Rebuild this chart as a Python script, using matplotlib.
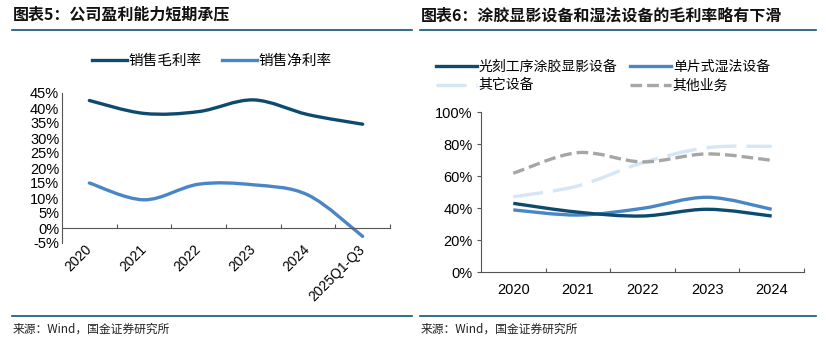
import matplotlib
matplotlib.use('Agg')
import matplotlib.pyplot as plt
from matplotlib.path import Path
from matplotlib.patches import PathPatch
from matplotlib.lines import Line2D

plt.rcParams['font.family'] = ['Liberation Sans', 'Noto Sans CJK SC', 'DejaVu Sans']

# Dati grafico sinistro
anni_sx = ['2020', '2021', '2022', '2023', '2024', '2025Q1-Q3']
margine_lordo = [42.5, 38.2, 38.8, 42.7, 37.8, 34.6]
margine_netto = [15.0, 9.4, 14.6, 14.4, 11.0, -2.8]

# Dati grafico destro
anni_dx = ['2020', '2021', '2022', '2023', '2024']
coater = [42.9, 37.4, 35.0, 39.2, 35.0]
wet = [38.8, 35.6, 39.8, 46.7, 39.2]
altri_dev = [47.0, 53.8, 68.3, 77.7, 78.5]
altri_bus = [61.7, 74.6, 68.8, 73.8, 69.8]

navy = '#0d4b6e'
blu = '#4a86c6'
azzurro = '#d5e6f6'
grigio = '#a6a6a6'
riga = '#0f5476'


def curva(ax, ys, **kw):
    # curva liscia (Catmull-Rom -> Bezier) come le linee "smooth" di Excel
    xs = list(range(len(ys)))
    pts = list(zip(xs, ys))
    verts = [pts[0]]
    codes = [Path.MOVETO]
    n = len(pts)
    for i in range(n - 1):
        p0 = pts[i - 1] if i > 0 else pts[i]
        p1 = pts[i]
        p2 = pts[i + 1]
        p3 = pts[i + 2] if i + 2 < n else pts[i + 1]
        c1 = (p1[0] + (p2[0] - p0[0]) / 6, p1[1] + (p2[1] - p0[1]) / 6)
        c2 = (p2[0] - (p3[0] - p1[0]) / 6, p2[1] - (p3[1] - p1[1]) / 6)
        verts += [c1, c2, p2]
        codes += [Path.CURVE4] * 3
    ax.add_patch(PathPatch(Path(verts, codes), fill=False, transform=ax.transData, **kw))


fig = plt.figure(figsize=(8.26, 3.39), dpi=100)
W, H = 826, 339

# Titoli, righe e fonti
for x0, x1, tit in [(12, 412, '图表5：公司盈利能力短期承压'),
                    (420, 816, '图表6：涂胶显影设备和湿法设备的毛利率略有下滑')]:
    fig.text((x0 + 1) / W, 1 - 15 / H, tit, fontsize=11.5, fontweight='bold',
             family=['Noto Sans CJK SC'], va='center', ha='left', color='#111111')
    fig.add_artist(Line2D([x0 / W, x1 / W], [1 - 30 / H] * 2, color=riga, lw=1.2))
    fig.add_artist(Line2D([x0 / W, x1 / W], [1 - 316 / H] * 2, color=riga, lw=1.2))
    fig.text((x0 + 1) / W, 1 - 329 / H, '来源：Wind，国金证券研究所', fontsize=8.5,
             family=['Noto Sans CJK SC'], va='center', ha='left', color='#222222')

# Grafico sinistro
ax1 = fig.add_axes([62 / W, 1 - 243 / H, 328 / W, 150 / H])
curva(ax1, margine_lordo, edgecolor=navy, lw=2.4, capstyle='round')
curva(ax1, margine_netto, edgecolor=blu, lw=2.4, capstyle='round')
ax1.set_xlim(-0.5, len(anni_sx) - 0.5)
ax1.set_ylim(-5, 45)
ax1.set_yticks(range(-5, 46, 5))
ax1.set_yticklabels(['%d%%' % v for v in range(-5, 46, 5)], fontsize=10.5)
ax1.tick_params(axis='y', length=0, pad=2)
for s in ['top', 'right']:
    ax1.spines[s].set_visible(False)
ax1.spines['left'].set_color('#555555')
ax1.spines['bottom'].set_position(('data', 0))
ax1.spines['bottom'].set_color('#555555')
ax1.set_xticks([i + 0.5 for i in range(len(anni_sx))])
ax1.set_xticklabels([])
ax1.tick_params(axis='x', which='major', direction='in', length=3, color='#555555')
ax1.set_xticks(range(len(anni_sx)), minor=True)
ax1.set_xticklabels(anni_sx, minor=True, rotation=45, ha='right', va='center',
                    rotation_mode='anchor', fontsize=10)
ax1.tick_params(axis='x', which='minor', length=0, pad=14)
h1 = [Line2D([], [], color=navy, lw=2.4), Line2D([], [], color=blu, lw=2.4)]
fig.legend(h1, ['销售毛利率', '销售净利率'], loc='center', bbox_to_anchor=(212 / W, 1 - 61 / H),
           ncol=2, frameon=False, fontsize=10.5, handlelength=2.4, handletextpad=0.1,
           columnspacing=1.4)

# Grafico destro
ax2 = fig.add_axes([481 / W, 1 - 272 / H, 323 / W, 160 / H])
curva(ax2, altri_dev, edgecolor=azzurro, lw=2.4, linestyle=(0, (9, 3)))
curva(ax2, altri_bus, edgecolor=grigio, lw=2.4, linestyle=(0, (3.5, 1.5)))
curva(ax2, wet, edgecolor=blu, lw=2.4)
curva(ax2, coater, edgecolor=navy, lw=2.4)
ax2.set_xlim(-0.5, len(anni_dx) - 0.5)
ax2.set_ylim(0, 100)
ax2.set_yticks(range(0, 101, 20))
ax2.set_yticklabels(['%d%%' % v for v in range(0, 101, 20)], fontsize=10.5)
ax2.tick_params(axis='y', direction='out', length=3, pad=3, color='#555555')
for s in ['top', 'right']:
    ax2.spines[s].set_visible(False)
ax2.spines['left'].set_color('#555555')
ax2.spines['bottom'].set_color('#555555')
ax2.set_xticks([i + 0.5 for i in range(len(anni_dx))])
ax2.set_xticklabels([])
ax2.tick_params(axis='x', which='major', direction='in', length=3, color='#555555')
ax2.set_xticks(range(len(anni_dx)), minor=True)
ax2.set_xticklabels(anni_dx, minor=True, fontsize=10.5)
ax2.tick_params(axis='x', which='minor', length=0, pad=8)
h2 = [Line2D([], [], color=navy, lw=2.4),
      Line2D([], [], color=azzurro, lw=2.4, linestyle=(0, (9, 3))),
      Line2D([], [], color=blu, lw=2.4),
      Line2D([], [], color=grigio, lw=2.4, linestyle=(0, (3.5, 1.5)))]
fig.legend(h2, ['光刻工序涂胶显影设备', '其它设备', '单片式湿法设备', '其他业务'],
           loc='upper left', bbox_to_anchor=(423 / W, 1 - 47 / H), ncol=2, frameon=False,
           fontsize=10, handlelength=3.0, handletextpad=0.1, columnspacing=0.9,
           labelspacing=0.35)

fig.savefig('out.png', dpi=100)
